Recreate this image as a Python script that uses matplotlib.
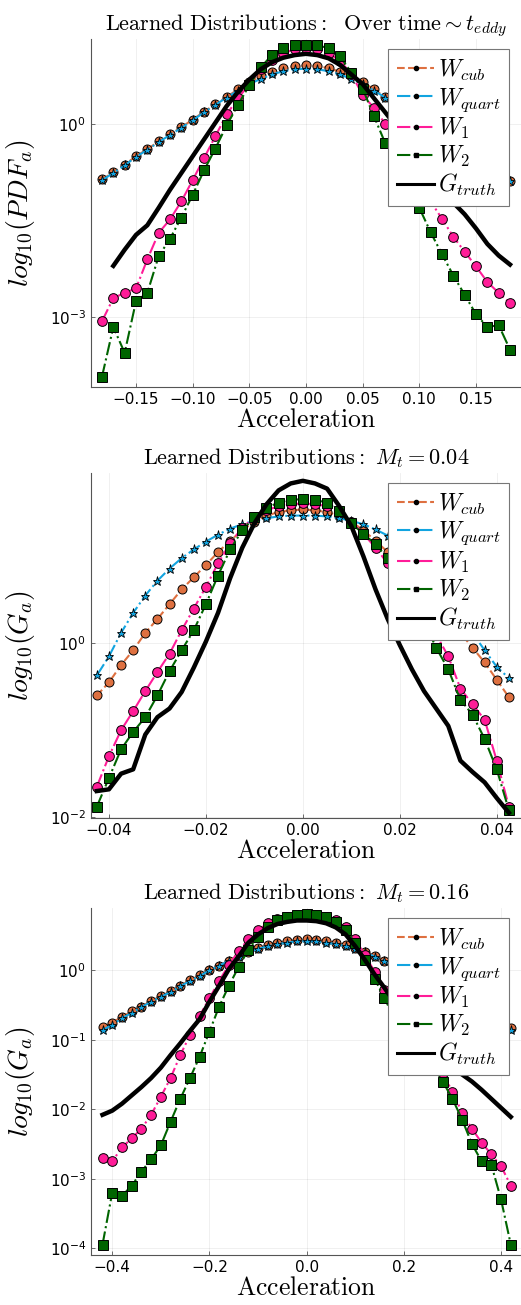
import numpy as np
import matplotlib
matplotlib.use("Agg")
import matplotlib.pyplot as plt
from matplotlib.lines import Line2D

plt.rcParams["mathtext.fontset"] = "cm"
plt.rcParams["font.family"] = ["DejaVu Sans"]

# ---- data: log10 of the learned / true PDFs ----
nan = np.nan

# panel 1: over time ~ t_eddy
x1 = np.linspace(-0.18, 0.18, 37)
cub1 = [-0.86, -0.75, -0.63, -0.50, -0.39, -0.27, -0.16, -0.05, 0.07, 0.19, 0.31, 0.42, 0.54, 0.65, 0.74, 0.81, 0.87, 0.90,
        0.91,
        0.90, 0.87, 0.81, 0.74, 0.65, 0.54, 0.42, 0.31, 0.19, 0.07, -0.05, -0.16, -0.27, -0.39, -0.50, -0.63, -0.76, -0.89]
quart1 = [-0.87, -0.76, -0.64, -0.51, -0.40, -0.28, -0.17, -0.06, 0.06, 0.18, 0.30, 0.41, 0.52, 0.62, 0.70, 0.77, 0.82, 0.85,
          0.86,
          0.85, 0.82, 0.77, 0.70, 0.62, 0.52, 0.41, 0.30, 0.18, 0.06, -0.06, -0.17, -0.28, -0.40, -0.51, -0.64, -0.77, -0.88]
w1_1 = [-3.06, -2.70, -2.62, -2.55, -2.10, -1.69, -1.48, -1.20, -0.87, -0.53, -0.19, 0.15, 0.40, 0.62, 0.85, 1.00, 1.10, 1.16,
        1.18,
        1.16, 1.10, 0.98, 0.78, 0.45, 0.25, 0.00, -0.28, -0.60, -0.90, -1.20, -1.47, -1.75, -1.98, -2.21, -2.45, -2.62, -2.78]
w2_1 = [-3.92, -3.15, -3.55, -2.75, -2.62, -2.05, -1.78, -1.45, -1.10, -0.72, -0.38, -0.02, 0.30, 0.60, 0.88, 1.07, 1.18, 1.22,
        1.23,
        1.22, 1.18, 1.05, 0.80, 0.55, 0.12, -0.30, -0.62, -0.95, -1.30, -1.68, -2.02, -2.35, -2.65, -2.95, -3.15, -3.12, -3.50]
truth1 = [nan, -2.20, -1.95, -1.72, -1.57, -1.30, -1.02, -0.76, -0.50, -0.24, 0.02, 0.28, 0.50, 0.69, 0.85, 0.96, 1.03, 1.07,
          1.09,
          1.07, 1.02, 0.92, 0.77, 0.62, 0.40, 0.18, -0.04, -0.28, -0.54, -0.78, -1.02, -1.22, -1.40, -1.62, -1.86, -2.04, -2.18]

# panel 2: M_t = 0.04
x2 = np.linspace(-0.0425, 0.0425, 35)
cub2 = [-0.60, -0.45, -0.25, -0.08, 0.12, 0.28, 0.45, 0.62, 0.76, 0.90, 1.05, 1.18, 1.30, 1.40, 1.47, 1.51, 1.53,
        1.54,
        1.53, 1.51, 1.47, 1.40, 1.30, 1.18, 1.05, 0.90, 0.76, 0.60, 0.44, 0.28, 0.12, -0.05, -0.22, -0.42, -0.62]
quart2 = [-0.37, -0.15, 0.12, 0.35, 0.55, 0.72, 0.86, 0.98, 1.08, 1.17, 1.25, 1.32, 1.37, 1.41, 1.44, 1.46, 1.47,
          1.47,
          1.47, 1.46, 1.44, 1.41, 1.37, 1.31, 1.24, 1.14, 1.02, 0.88, 0.72, 0.55, 0.35, 0.12, -0.08, -0.27, -0.40]
w1_2 = [-1.65, -1.30, -1.00, -0.78, -0.55, -0.33, -0.12, 0.15, 0.40, 0.65, 0.92, 1.15, 1.33, 1.45, 1.53, 1.58, 1.60,
        1.61,
        1.60, 1.58, 1.52, 1.40, 1.26, 1.10, 0.92, 0.72, 0.48, 0.25, 0.10, -0.15, -0.52, -0.70, -0.88, -1.35, -1.88]
w2_2 = [-1.88, -1.55, -1.22, -1.02, -0.85, -0.60, -0.32, -0.08, 0.15, 0.45, 0.78, 1.08, 1.30, 1.45, 1.56, 1.62, 1.65,
        1.66,
        1.65, 1.62, 1.52, 1.38, 1.26, 1.14, 0.98, 0.75, 0.50, 0.25, -0.05, -0.30, -0.65, -0.82, -1.10, -1.45, -1.92]
truth2 = [-1.70, -1.68, -1.50, -1.45, -1.05, -0.85, -0.75, -0.56, -0.28, 0.02, 0.35, 0.75, 1.10, 1.38, 1.60, 1.76, 1.84,
          1.87,
          1.84, 1.78, 1.58, 1.35, 1.00, 0.62, 0.28, -0.02, -0.30, -0.55, -0.75, -0.95, -1.35, -1.48, -1.60, -1.78, -1.95]

# panel 3: M_t = 0.16
x3 = np.linspace(-0.42, 0.42, 43)
cub3 = [-0.82, -0.75, -0.67, -0.59, -0.52, -0.44, -0.37, -0.30, -0.22, -0.14, -0.07, 0.00, 0.07, 0.14, 0.21, 0.27, 0.32,
        0.36, 0.40, 0.42, 0.44,
        0.45,
        0.44, 0.42, 0.40, 0.36, 0.32, 0.27, 0.21, 0.14, 0.07, 0.00, -0.07, -0.14, -0.22, -0.30, -0.37, -0.44, -0.52,
        -0.59, -0.67, -0.75, -0.83]
quart3 = [-0.86, -0.78, -0.69, -0.61, -0.53, -0.45, -0.38, -0.31, -0.23, -0.15, -0.08, 0.00, 0.07, 0.14, 0.20, 0.26, 0.31,
          0.35, 0.38, 0.40, 0.42,
          0.42,
          0.42, 0.40, 0.38, 0.35, 0.31, 0.26, 0.20, 0.14, 0.07, 0.00, -0.08, -0.15, -0.23, -0.31, -0.38, -0.45, -0.53,
          -0.61, -0.69, -0.78, -0.86]
w1_3 = [-2.70, -2.75, -2.55, -2.42, -2.28, -2.08, -1.82, -1.55, -1.22, -0.93, -0.65, -0.40, -0.15, 0.08, 0.28, 0.45, 0.58,
        0.68, 0.74, 0.77, 0.79,
        0.79,
        0.79, 0.77, 0.72, 0.62, 0.45, 0.22, -0.02, -0.28, -0.55, -0.80, -1.02, -1.18, -1.30, -1.48, -1.75, -2.05, -2.28,
        -2.48, -2.65, -2.82, -3.10]
w2_3 = [-3.95, -3.20, -3.25, -3.10, -2.90, -2.72, -2.52, -2.18, -1.85, -1.55, -1.24, -0.88, -0.52, -0.22, 0.05, 0.30, 0.48,
        0.62, 0.72, 0.77, 0.80,
        0.81,
        0.80, 0.77, 0.70, 0.58, 0.40, 0.15, -0.12, -0.40, -0.68, -0.92, -1.10, -1.22, -1.38, -1.60, -1.85, -2.15, -2.50,
        -2.75, -2.80, -3.30, -3.95]
truth3 = [-2.08, -2.02, -1.92, -1.80, -1.68, -1.55, -1.40, -1.22, -1.05, -0.87, -0.70, -0.45, -0.22, 0.02, 0.20, 0.40, 0.52,
          0.61, 0.67, 0.70, 0.72,
          0.72,
          0.71, 0.68, 0.62, 0.52, 0.35, 0.15, -0.06, -0.25, -0.45, -0.65, -0.82, -0.98, -1.12, -1.28, -1.42, -1.50, -1.60,
          -1.72, -1.85, -1.98, -2.11]

titles = [
    r"$\mathrm{Learned\ Distributions:\ \ Over\ time}\sim t_{eddy}$",
    r"$\mathrm{Learned\ Distributions:}\ M_t=0.04$",
    r"$\mathrm{Learned\ Distributions:}\ M_t=0.16$",
]
ylabels = [r"$log_{10}(PDF_a)$", r"$log_{10}(G_a)$", r"$log_{10}(G_a)$"]
legend_labels = [r"$W_{cub}$", r"$W_{quart}$", r"$W_{1}$", r"$W_{2}$", r"$G_{truth}$"]

C_CUB = "#DE7040"
C_QUART = "#12A4E0"
C_W1 = "#FF1C98"
C_W2 = "#006400"

panels = [
    dict(x=x1, ys=[cub1, quart1, w1_1, w2_1, truth1], xlim=(-0.1897, 0.1897), ylim=(-4.08, 1.32),
         xticks=[-0.15, -0.10, -0.05, 0.0, 0.05, 0.10, 0.15], xfmt="{:.2f}", yticks=[0, -3],
         box=(91, 39, 521, 387)),
    dict(x=x2, ys=[cub2, quart2, w1_2, w2_2, truth2], xlim=(-0.0437, 0.0450), ylim=(-2.01, 1.96),
         xticks=[-0.04, -0.02, 0.0, 0.02, 0.04], xfmt="{:.2f}", yticks=[0, -2],
         box=(91, 473, 521, 818)),
    dict(x=x3, ys=[cub3, quart3, w1_3, w2_3, truth3], xlim=(-0.4437, 0.4410), ylim=(-4.10, 0.90),
         xticks=[-0.4, -0.2, 0.0, 0.2, 0.4], xfmt="{:.1f}", yticks=[0, -1, -2, -3, -4],
         box=(91, 908, 521, 1255)),
]

W, H = 521, 1305
fig = plt.figure(figsize=(W / 100, H / 100), dpi=100)

for i, p in enumerate(panels):
    l, t, r, b = p["box"]
    ax = fig.add_axes([l / W, 1 - b / H, (r - l) / W, (b - t) / H])
    x = p["x"]
    cub, quart, w1, w2, truth = [10 ** np.array(v, dtype=float) for v in p["ys"]]

    ax.plot(x, cub, ls="--", lw=1.5, color=C_CUB, marker="o", ms=6.5, mfc=C_CUB, mec="black", mew=0.7)
    ax.plot(x, quart, ls="-.", lw=1.5, color=C_QUART, marker="*", ms=6.5, mfc=C_QUART, mec="black", mew=0.6)
    ax.plot(x, w1, ls="-.", lw=1.5, color=C_W1, marker="o", ms=7, mfc=C_W1, mec="black", mew=0.7)
    ax.plot(x, w2, ls="-.", lw=1.5, color=C_W2, marker="s", ms=7, mfc=C_W2, mec="black", mew=0.7)
    ax.plot(x, truth, ls="-", lw=3.2, color="black")

    ax.set_yscale("log")
    ax.set_xlim(*p["xlim"])
    ax.set_ylim(10 ** p["ylim"][0], 10 ** p["ylim"][1])
    ax.set_xticks(p["xticks"])
    ax.set_xticklabels([p["xfmt"].format(v).replace("-", "\u2212") for v in p["xticks"]])
    ax.set_yticks([10.0 ** k for k in p["yticks"]])
    ax.set_yticklabels([r"$\mathdefault{10^{%d}}$" % k for k in p["yticks"]])
    ax.yaxis.set_minor_locator(matplotlib.ticker.NullLocator())
    ax.tick_params(axis="both", direction="in", length=3, width=0.6, color="#555555",
                   labelsize=11, labelcolor="black")
    for s in ["top", "right"]:
        ax.spines[s].set_visible(False)
    for s in ["left", "bottom"]:
        ax.spines[s].set_color("#555555")
        ax.spines[s].set_linewidth(0.8)
    ax.grid(True, color="#000000", alpha=0.07, lw=0.6)

    ax.set_title(titles[i], fontsize=16, pad=6)
    ax.set_xlabel(r"$\mathrm{Acceleration}$", fontsize=18.5, labelpad=0)
    ax.set_ylabel(ylabels[i], fontsize=20)
    ax.yaxis.set_label_coords(-0.125, 0.5)

    handles = [
        Line2D([], [], ls="--", lw=1.5, color=C_CUB, marker="o", ms=3, mfc="black", mec="black"),
        Line2D([], [], ls="-.", lw=1.5, color=C_QUART, marker="o", ms=3, mfc="black", mec="black"),
        Line2D([], [], ls="-.", lw=1.5, color=C_W1, marker="o", ms=3, mfc="black", mec="black"),
        Line2D([], [], ls="-.", lw=1.5, color=C_W2, marker="s", ms=3, mfc="black", mec="black"),
        Line2D([], [], ls="-", lw=2.2, color="black"),
    ]
    leg = ax.legend(handles, legend_labels, loc="upper right", bbox_to_anchor=(0.972, 0.97),
                    borderaxespad=0, fontsize=17, handlelength=1.6, handletextpad=0.15,
                    labelspacing=0.12, borderpad=0.35, fancybox=False, framealpha=1,
                    edgecolor="#777777")
    leg.get_frame().set_linewidth(0.8)

fig.savefig("out.png", dpi=100)
